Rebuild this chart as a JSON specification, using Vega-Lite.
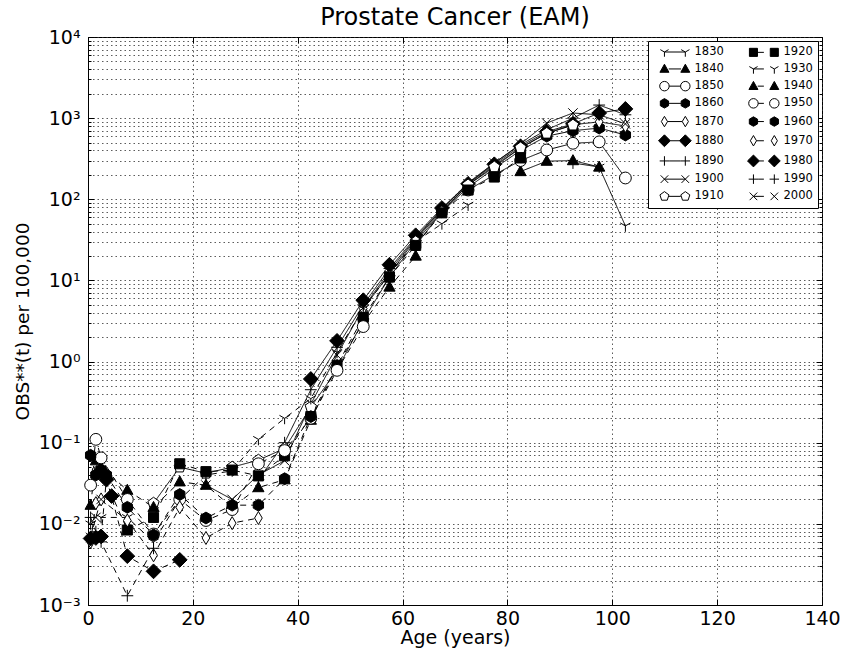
{
  "$schema": "https://vega.github.io/schema/vega-lite/v6.json",
  "width": 734,
  "height": 568,
  "autosize": {"type": "none"},
  "padding": {"left": 88, "top": 37, "right": 20, "bottom": 48},
  "background": "white",
  "title": {"text": "Prostate Cancer (EAM)", "fontSize": 24, "fontWeight": "normal", "font": "DejaVu Sans", "offset": -2, "color": "black"},
  "config": {
    "font": "DejaVu Sans",
    "view": {"stroke": "black", "strokeWidth": 1},
    "axis": {"domainColor": "black", "tickColor": "black", "labelColor": "black", "titleColor": "black", "titleFontWeight": "normal", "labelFont": "DejaVu Sans", "titleFont": "DejaVu Sans"}
  },
  "data": {"values": [
    {"c":"1830","a":92.5,"v":280},{"c":"1830","a":97.5,"v":250},{"c":"1830","a":102.5,"v":47},
    {"c":"1840","a":82.5,"v":220},{"c":"1840","a":87.5,"v":295},{"c":"1840","a":92.5,"v":300},{"c":"1840","a":97.5,"v":250},
    {"c":"1850","a":72.5,"v":130},{"c":"1850","a":77.5,"v":200},{"c":"1850","a":82.5,"v":300},{"c":"1850","a":87.5,"v":405},{"c":"1850","a":92.5,"v":490},{"c":"1850","a":97.5,"v":510},{"c":"1850","a":102.5,"v":183},
    {"c":"1860","a":62.5,"v":27},{"c":"1860","a":67.5,"v":70},{"c":"1860","a":72.5,"v":140},{"c":"1860","a":77.5,"v":240},{"c":"1860","a":82.5,"v":400},{"c":"1860","a":87.5,"v":600},{"c":"1860","a":92.5,"v":700},{"c":"1860","a":97.5,"v":755},{"c":"1860","a":102.5,"v":620},
    {"c":"1870","a":52.5,"v":4.5},{"c":"1870","a":57.5,"v":12},{"c":"1870","a":62.5,"v":32},{"c":"1870","a":67.5,"v":72},{"c":"1870","a":72.5,"v":150},{"c":"1870","a":77.5,"v":260},{"c":"1870","a":82.5,"v":430},{"c":"1870","a":87.5,"v":650},{"c":"1870","a":92.5,"v":830},{"c":"1870","a":97.5,"v":900},{"c":"1870","a":102.5,"v":800},
    {"c":"1880","a":42.5,"v":0.61},{"c":"1880","a":47.5,"v":1.8},{"c":"1880","a":52.5,"v":5.7},{"c":"1880","a":57.5,"v":15.6},{"c":"1880","a":62.5,"v":36},{"c":"1880","a":67.5,"v":78},{"c":"1880","a":72.5,"v":155},{"c":"1880","a":77.5,"v":270},{"c":"1880","a":82.5,"v":450},{"c":"1880","a":87.5,"v":680},{"c":"1880","a":92.5,"v":850},{"c":"1880","a":97.5,"v":1157},{"c":"1880","a":102.5,"v":1300},
    {"c":"1890","a":32.5,"v":0.035},{"c":"1890","a":37.5,"v":0.1},{"c":"1890","a":42.5,"v":0.45},{"c":"1890","a":47.5,"v":1.5},{"c":"1890","a":52.5,"v":5.0},{"c":"1890","a":57.5,"v":14},{"c":"1890","a":62.5,"v":34},{"c":"1890","a":67.5,"v":76},{"c":"1890","a":72.5,"v":160},{"c":"1890","a":77.5,"v":280},{"c":"1890","a":82.5,"v":470},{"c":"1890","a":87.5,"v":720},{"c":"1890","a":92.5,"v":1000},{"c":"1890","a":97.5,"v":1450},{"c":"1890","a":102.5,"v":1100},
    {"c":"1900","a":22.5,"v":0.03},{"c":"1900","a":27.5,"v":0.02},{"c":"1900","a":32.5,"v":0.04},{"c":"1900","a":37.5,"v":0.06},{"c":"1900","a":42.5,"v":0.3},{"c":"1900","a":47.5,"v":1.2},{"c":"1900","a":52.5,"v":4.6},{"c":"1900","a":57.5,"v":13},{"c":"1900","a":62.5,"v":33},{"c":"1900","a":67.5,"v":75},{"c":"1900","a":72.5,"v":155},{"c":"1900","a":77.5,"v":280},{"c":"1900","a":82.5,"v":480},{"c":"1900","a":87.5,"v":870},{"c":"1900","a":92.5,"v":1157},{"c":"1900","a":97.5,"v":1100},{"c":"1900","a":102.5,"v":850},
    {"c":"1910","a":12.5,"v":0.018},{"c":"1910","a":17.5,"v":0.05},{"c":"1910","a":22.5,"v":0.042},{"c":"1910","a":27.5,"v":0.05},{"c":"1910","a":32.5,"v":0.061},{"c":"1910","a":37.5,"v":0.085},{"c":"1910","a":42.5,"v":0.275},{"c":"1910","a":47.5,"v":0.79},{"c":"1910","a":52.5,"v":3.2},{"c":"1910","a":57.5,"v":11},{"c":"1910","a":62.5,"v":30},{"c":"1910","a":67.5,"v":70},{"c":"1910","a":72.5,"v":150},{"c":"1910","a":77.5,"v":250},{"c":"1910","a":82.5,"v":430},{"c":"1910","a":87.5,"v":650},{"c":"1910","a":92.5,"v":820},
    {"c":"1920","a":2.5,"v":0.045},{"c":"1920","a":7.5,"v":0.0084},{"c":"1920","a":12.5,"v":0.012},{"c":"1920","a":17.5,"v":0.055},{"c":"1920","a":22.5,"v":0.044},{"c":"1920","a":27.5,"v":0.046},{"c":"1920","a":32.5,"v":0.039},{"c":"1920","a":37.5,"v":0.069},{"c":"1920","a":42.5,"v":0.21},{"c":"1920","a":47.5,"v":0.9},{"c":"1920","a":52.5,"v":3.5},{"c":"1920","a":57.5,"v":11},{"c":"1920","a":62.5,"v":27},{"c":"1920","a":67.5,"v":68},{"c":"1920","a":72.5,"v":130},{"c":"1920","a":77.5,"v":188},{"c":"1920","a":82.5,"v":323},
    {"c":"1930","a":0.5,"v":0.01},{"c":"1930","a":2.5,"v":0.012},{"c":"1930","a":7.5,"v":0.012},{"c":"1930","a":12.5,"v":0.006},{"c":"1930","a":17.5,"v":0.02},{"c":"1930","a":22.5,"v":0.04},{"c":"1930","a":27.5,"v":0.045},{"c":"1930","a":32.5,"v":0.11},{"c":"1930","a":37.5,"v":0.2},{"c":"1930","a":42.5,"v":0.35},{"c":"1930","a":47.5,"v":1.3},{"c":"1930","a":52.5,"v":4.5},{"c":"1930","a":57.5,"v":12},{"c":"1930","a":62.5,"v":30},{"c":"1930","a":67.5,"v":50},{"c":"1930","a":72.5,"v":85},
    {"c":"1940","a":0.5,"v":0.017},{"c":"1940","a":1.5,"v":0.06},{"c":"1940","a":2.5,"v":0.05},{"c":"1940","a":7.5,"v":0.026},{"c":"1940","a":12.5,"v":0.016},{"c":"1940","a":17.5,"v":0.033},{"c":"1940","a":22.5,"v":0.03},{"c":"1940","a":27.5,"v":0.016},{"c":"1940","a":32.5,"v":0.028},{"c":"1940","a":37.5,"v":0.035},{"c":"1940","a":42.5,"v":0.19},{"c":"1940","a":47.5,"v":0.9},{"c":"1940","a":52.5,"v":3.0},{"c":"1940","a":57.5,"v":8.3},{"c":"1940","a":62.5,"v":20},
    {"c":"1950","a":0.5,"v":0.03},{"c":"1950","a":1.5,"v":0.11},{"c":"1950","a":2.5,"v":0.065},{"c":"1950","a":7.5,"v":0.02},{"c":"1950","a":12.5,"v":0.0075},{"c":"1950","a":17.5,"v":0.02},{"c":"1950","a":22.5,"v":0.011},{"c":"1950","a":27.5,"v":0.015},{"c":"1950","a":32.5,"v":0.055},{"c":"1950","a":37.5,"v":0.08},{"c":"1950","a":42.5,"v":0.2},{"c":"1950","a":47.5,"v":0.78},{"c":"1950","a":52.5,"v":2.7},
    {"c":"1960","a":0.5,"v":0.07},{"c":"1960","a":1.5,"v":0.04},{"c":"1960","a":2.5,"v":0.045},{"c":"1960","a":3.5,"v":0.04},{"c":"1960","a":7.5,"v":0.016},{"c":"1960","a":12.5,"v":0.0073},{"c":"1960","a":17.5,"v":0.023},{"c":"1960","a":22.5,"v":0.0118},{"c":"1960","a":27.5,"v":0.017},{"c":"1960","a":32.5,"v":0.017},{"c":"1960","a":37.5,"v":0.036},{"c":"1960","a":42.5,"v":0.21},
    {"c":"1970","a":0.5,"v":0.006},{"c":"1970","a":1.5,"v":0.018},{"c":"1970","a":2.5,"v":0.02},{"c":"1970","a":7.5,"v":0.011},{"c":"1970","a":12.5,"v":0.0041},{"c":"1970","a":17.5,"v":0.016},{"c":"1970","a":22.5,"v":0.0067},{"c":"1970","a":27.5,"v":0.0102},{"c":"1970","a":32.5,"v":0.0118},
    {"c":"1980","a":0.5,"v":0.0066},{"c":"1980","a":1.5,"v":0.0067},{"c":"1980","a":2.5,"v":0.007},{"c":"1980","a":3.5,"v":0.035},{"c":"1980","a":4.5,"v":0.022},{"c":"1980","a":7.5,"v":0.004},{"c":"1980","a":12.5,"v":0.0026},{"c":"1980","a":17.5,"v":0.0036},
    {"c":"1990","a":0.5,"v":0.012},{"c":"1990","a":1.5,"v":0.008},{"c":"1990","a":2.5,"v":0.006},{"c":"1990","a":7.5,"v":0.0013},{"c":"1990","a":12.5,"v":0.005},
    {"c":"2000","a":0.5,"v":0.0068},{"c":"2000","a":1.5,"v":0.012},{"c":"2000","a":2.5,"v":0.02}
  ]},
  "resolve": {"axis": {"x": "independent", "y": "independent"}},
  "layer": [
    {
      "mark": {"type": "line", "color": "black", "strokeWidth": 1},
      "encoding": {
        "x": {"field": "a", "type": "quantitative", "scale": {"domain": [0, 140], "nice": false},
              "axis": {"values": [0, 20, 40, 60, 80, 100, 120, 140], "title": "Age (years)", "titleFontSize": 19, "labelFontSize": 19, "labelPadding": 10, "titlePadding": 0,
                       "grid": true, "gridColor": "#333", "gridDash": [1.5, 3], "gridOpacity": 0.8, "tickSize": -6, "domain": true, "labelFlush": false}},
        "y": {"field": "v", "type": "quantitative", "scale": {"type": "log", "domain": [0.001, 10000], "nice": false},
              "axis": {"values": [0.001,0.002,0.003,0.004,0.005,0.006,0.007,0.008,0.009,0.01,0.02,0.03,0.04,0.05,0.06,0.07,0.08,0.09,0.1,0.2,0.3,0.4,0.5,0.6,0.7,0.8,0.9,1,2,3,4,5,6,7,8,9,10,20,30,40,50,60,70,80,90,100,200,300,400,500,600,700,800,900,1000,2000,3000,4000,5000,6000,7000,8000,9000,10000],
                       "labelExpr": "abs(log(datum.value)/LN10 - round(log(datum.value)/LN10)) < 0.001 ? (round(log(datum.value)/LN10) == 4 ? '10⁴' : round(log(datum.value)/LN10) == 3 ? '10³' : round(log(datum.value)/LN10) == 2 ? '10²' : round(log(datum.value)/LN10) == 1 ? '10¹' : round(log(datum.value)/LN10) == 0 ? '10⁰' : round(log(datum.value)/LN10) == -1 ? '10⁻¹' : round(log(datum.value)/LN10) == -2 ? '10⁻²' : '10⁻³') : ''",
                       "labelOverlap": false, "labelFlush": false, "labelFontSize": 19, "labelPadding": 14, "title": "OBS**(t) per 100,000", "titleFontSize": 18.5, "titlePadding": 6,
                       "grid": true, "gridColor": "#333", "gridDash": [1.5, 3], "gridOpacity": 0.8,
                       "tickSize": {"condition": {"test": "abs(log(datum.value)/LN10 - round(log(datum.value)/LN10)) < 0.001", "value": -6}, "value": -3}}},
        "strokeDash": {"field": "c", "type": "nominal", "legend": null,
                       "scale": {"domain": ["2000","1990","1980","1970","1960","1950","1940","1930","1920","1910","1900","1890","1880","1870","1860","1850","1840","1830"],
                                 "range": [[6,5],[6,5],[6,5],[6,5],[6,5],[6,5],[6,5],[6,5],[6,5],[1,0],[1,0],[1,0],[1,0],[1,0],[1,0],[1,0],[1,0],[1,0]]}}
      }
    },
    {
      "mark": {"type": "point", "filled": false, "stroke": "black", "strokeWidth": 1, "opacity": 1, "size": 140},
      "encoding": {
        "x": {"field": "a", "type": "quantitative", "axis": {"orient": "top", "labels": false, "title": null, "grid": false, "domain": false, "values": [0, 20, 40, 60, 80, 100, 120, 140], "tickSize": -6}},
        "y": {"field": "v", "type": "quantitative", "axis": {"orient": "right", "labels": false, "title": null, "grid": false, "domain": false,
              "values": [0.001,0.002,0.003,0.004,0.005,0.006,0.007,0.008,0.009,0.01,0.02,0.03,0.04,0.05,0.06,0.07,0.08,0.09,0.1,0.2,0.3,0.4,0.5,0.6,0.7,0.8,0.9,1,2,3,4,5,6,7,8,9,10,20,30,40,50,60,70,80,90,100,200,300,400,500,600,700,800,900,1000,2000,3000,4000,5000,6000,7000,8000,9000,10000],
              "tickSize": {"condition": {"test": "abs(log(datum.value)/LN10 - round(log(datum.value)/LN10)) < 0.001", "value": -6}, "value": -3}}},
        "shape": {"field": "c", "type": "nominal", "legend": null,
                  "scale": {"domain": ["2000","1990","1980","1970","1960","1950","1940","1930","1920","1910","1900","1890","1880","1870","1860","1850","1840","1830"],
                            "range": [
                              "M-0.8,-0.8L0.8,0.8M-0.8,0.8L0.8,-0.8",
                              "M-1,0L1,0M0,-1L0,1",
                              "M0,-1.25L1.25,0L0,1.25L-1.25,0Z",
                              "M0,-1.1L0.65,0L0,1.1L-0.65,0Z",
                              "M0,-1L0.87,-0.5L0.87,0.5L0,1L-0.87,0.5L-0.87,-0.5Z",
                              "M-1,0A1,1,0,1,1,1,0A1,1,0,1,1,-1,0Z",
                              "M0,-1L0.95,0.7L-0.95,0.7Z",
                              "M0,0L0,1M0,0L-0.87,-0.5M0,0L0.87,-0.5",
                              "M-0.85,-0.85L0.85,-0.85L0.85,0.85L-0.85,0.85Z",
                              "M0,-1L0.95,-0.31L0.59,0.81L-0.59,0.81L-0.95,-0.31Z",
                              "M-0.8,-0.8L0.8,0.8M-0.8,0.8L0.8,-0.8",
                              "M-1,0L1,0M0,-1L0,1",
                              "M0,-1.25L1.25,0L0,1.25L-1.25,0Z",
                              "M0,-1.1L0.65,0L0,1.1L-0.65,0Z",
                              "M0,-1L0.87,-0.5L0.87,0.5L0,1L-0.87,0.5L-0.87,-0.5Z",
                              "M-1,0A1,1,0,1,1,1,0A1,1,0,1,1,-1,0Z",
                              "M0,-1L0.95,0.7L-0.95,0.7Z",
                              "M0,0L0,1M0,0L-0.87,-0.5M0,0L0.87,-0.5"
                            ]}},
        "fill": {"field": "c", "type": "nominal",
                 "scale": {"domain": ["1830","1840","1850","1860","1870","1880","1890","1900","1910","1920","1930","1940","1950","1960","1970","1980","1990","2000"],
                           "range": ["transparent","black","white","black","white","black","transparent","transparent","white","black","transparent","black","white","black","white","black","transparent","transparent"]},
                 "legend": {"title": null, "orient": "top-right", "offset": 4, "columns": 2, "columnPadding": 18, "rowPadding": 3.2,
                    "fillColor": "white", "strokeColor": "black", "padding": 5, "cornerRadius": 0,
                    "labelFontSize": 11.5, "labelColor": "black", "symbolSize": 90, "labelOffset": 30,
                    "symbolStrokeColor": "black", "symbolStrokeWidth": 1,
                    "symbolType": {"expr": "datum.value == '1830' ? 'M1.2,0L1.2,1M1.2,0L0.33,-0.5M1.2,0L2.07,-0.5M5.6,0L5.6,1M5.6,0L4.73,-0.5M5.6,0L6.47,-0.5M1.2,0L5.6,0' : datum.value == '1930' ? 'M1.2,0L1.2,1M1.2,0L0.33,-0.5M1.2,0L2.07,-0.5M5.6,0L5.6,1M5.6,0L4.73,-0.5M5.6,0L6.47,-0.5M1.2,0L3.4,0' : datum.value == '1920' ? 'M0.35,-0.85L2.05,-0.85L2.05,0.85L0.35,0.85ZM4.75,-0.85L6.45,-0.85L6.45,0.85L4.75,0.85ZM2.05,0L3.4,0' : datum.value == '1840' ? 'M1.2,-1L2.15,0.7L0.25,0.7ZM5.6,-1L6.55,0.7L4.65,0.7ZM2.1,0L4.7,0' : datum.value == '1940' ? 'M1.2,-1L2.15,0.7L0.25,0.7ZM5.6,-1L6.55,0.7L4.65,0.7ZM2.1,0L3.4,0' : datum.value == '1850' ? 'M0.2,0A1,1,0,1,1,2.2,0A1,1,0,1,1,0.2,0ZM4.6,0A1,1,0,1,1,6.6,0A1,1,0,1,1,4.6,0ZM2.2,0L4.6,0' : datum.value == '1950' ? 'M0.2,0A1,1,0,1,1,2.2,0A1,1,0,1,1,0.2,0ZM4.6,0A1,1,0,1,1,6.6,0A1,1,0,1,1,4.6,0ZM2.2,0L3.4,0' : datum.value == '1860' ? 'M1.2,-1L2.07,-0.5L2.07,0.5L1.2,1L0.33,0.5L0.33,-0.5ZM5.6,-1L6.47,-0.5L6.47,0.5L5.6,1L4.73,0.5L4.73,-0.5ZM2.07,0L4.73,0' : datum.value == '1960' ? 'M1.2,-1L2.07,-0.5L2.07,0.5L1.2,1L0.33,0.5L0.33,-0.5ZM5.6,-1L6.47,-0.5L6.47,0.5L5.6,1L4.73,0.5L4.73,-0.5ZM2.07,0L3.4,0' : datum.value == '1870' ? 'M1.2,-1.1L1.85,0L1.2,1.1L0.55,0ZM5.6,-1.1L6.25,0L5.6,1.1L4.95,0ZM1.85,0L4.95,0' : datum.value == '1970' ? 'M1.2,-1.1L1.85,0L1.2,1.1L0.55,0ZM5.6,-1.1L6.25,0L5.6,1.1L4.95,0ZM1.85,0L3.4,0' : datum.value == '1880' ? 'M1.2,-1.25L2.45,0L1.2,1.25L-0.05,0ZM5.6,-1.25L6.85,0L5.6,1.25L4.35,0ZM2.45,0L4.35,0' : datum.value == '1980' ? 'M1.2,-1.25L2.45,0L1.2,1.25L-0.05,0ZM5.6,-1.25L6.85,0L5.6,1.25L4.35,0ZM2.45,0L3.4,0' : datum.value == '1890' ? 'M0.2,0L2.2,0M1.2,-1L1.2,1M4.6,0L6.6,0M5.6,-1L5.6,1M2.2,0L4.6,0' : datum.value == '1990' ? 'M0.2,0L2.2,0M1.2,-1L1.2,1M4.6,0L6.6,0M5.6,-1L5.6,1M2.2,0L3.4,0' : datum.value == '1900' ? 'M0.4,-0.8L2,0.8M0.4,0.8L2,-0.8M4.8,-0.8L6.4,0.8M4.8,0.8L6.4,-0.8M1.2,0L5.6,0' : datum.value == '2000' ? 'M0.4,-0.8L2,0.8M0.4,0.8L2,-0.8M4.8,-0.8L6.4,0.8M4.8,0.8L6.4,-0.8M1.2,0L3.4,0' : 'M1.2,-1L2.15,-0.31L1.79,0.81L0.61,0.81L0.25,-0.31ZM5.6,-1L6.55,-0.31L6.19,0.81L5.01,0.81L4.65,-0.31ZM2.15,0L4.65,0'"}}
        }
      }
    }
  ]
}
